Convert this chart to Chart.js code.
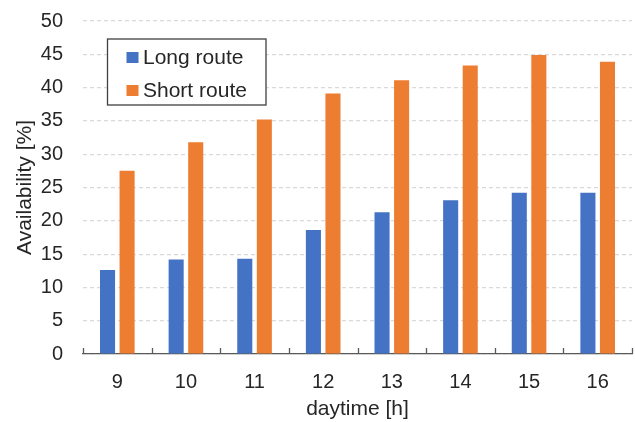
<!DOCTYPE html>
<html>
<head>
<meta charset="utf-8">
<script src="https://cdn.jsdelivr.net/npm/chart.js@4/dist/chart.umd.min.js"></script>
<style>
  html, body { margin: 0; padding: 0; background: #ffffff; }
  #wrap { width: 635px; height: 422px; }
</style>
</head>
<body>
<div id="wrap"><canvas id="c" width="635" height="422"></canvas></div>
<script>
// Hour of day
const hours = ['9', '10', '11', '12', '13', '14', '15', '16'];
// Availability per route, in percent
const longRoute = [12.6, 14.2, 14.3, 18.6, 21.3, 23.1, 24.2, 24.2];
const shortRoute = [27.5, 31.8, 35.2, 39.1, 41.1, 43.3, 44.9, 43.9];
// Value axis ticks
const yTicks = [0, 5, 10, 15, 20, 25, 30, 35, 40, 45, 50];

const FONT = 'Liberation Sans, Arial, sans-serif';
const AXIS_COLOR = '#595959';
const TEXT_COLOR = '#262626';

// Small upward tick marks at category boundaries on the x axis
const categoryTicks = {
  id: 'categoryTicks',
  afterDatasetsDraw(chart) {
    const x = chart.scales.x;
    const ctx = chart.ctx;
    const y0 = x.top;
    ctx.save();
    ctx.strokeStyle = AXIS_COLOR;
    ctx.lineWidth = 1.3;
    ctx.beginPath();
    for (let i = 0; i <= hours.length; i++) {
      const px = Math.round(x.getPixelForValue(i - 0.5)) + 0.5;
      ctx.moveTo(px, y0);
      ctx.lineTo(px, y0 - 6);
    }
    ctx.stroke();
    ctx.restore();
  }
};

// Boxed legend inside the plot area
const boxLegend = {
  id: 'boxLegend',
  afterDraw(chart) {
    const ctx = chart.ctx;
    const area = chart.chartArea;
    const left = area.left + 24.5, top = area.top + 18;
    const w = 158.5, h = 66;
    ctx.save();
    ctx.fillStyle = '#ffffff';
    ctx.fillRect(left, top, w, h);
    ctx.strokeStyle = '#404040';
    ctx.lineWidth = 1.3;
    ctx.strokeRect(left, top, w, h);
    ctx.font = '21px ' + FONT;
    ctx.textBaseline = 'middle';
    chart.data.datasets.forEach((ds, i) => {
      const cy = top + 18.5 + i * 33;
      ctx.fillStyle = ds.backgroundColor;
      ctx.fillRect(left + 19, cy - 5.5, 12, 11);
      ctx.fillStyle = TEXT_COLOR;
      ctx.fillText(ds.label, left + 35.5, cy + 1);
    });
    ctx.restore();
  }
};

new Chart(document.getElementById('c'), {
  type: 'bar',
  data: {
    labels: hours,
    datasets: [
      { label: 'Long route', data: longRoute, backgroundColor: '#4472C4' },
      { label: 'Short route', data: shortRoute, backgroundColor: '#ED7D31' }
    ]
  },
  options: {
    responsive: false,
    animation: false,
    devicePixelRatio: 1,
    layout: { padding: { top: 21, right: 3, bottom: 0, left: 0 } },
    datasets: { bar: { categoryPercentage: 0.57, barPercentage: 0.77 } },
    plugins: { legend: { display: false }, tooltip: { enabled: false } },
    scales: {
      x: {
        grid: { display: false },
        border: { display: true, color: AXIS_COLOR, width: 1.3 },
        ticks: { color: TEXT_COLOR, font: { family: FONT, size: 20 }, padding: 8, maxRotation: 0 },
        title: { display: true, text: 'daytime [h]', color: TEXT_COLOR,
                 font: { family: FONT, size: 21 }, padding: { top: 0, bottom: 0 } },
        afterFit(s) { s.height = 68; }
      },
      y: {
        min: 0, max: 50,
        afterBuildTicks(s) { s.ticks = yTicks.map(v => ({ value: v })); },
        grid: { color: '#d9d9d9', lineWidth: 1.2, drawTicks: false },
        border: { display: false, dash: [4, 3] },
        ticks: { color: TEXT_COLOR, font: { family: FONT, size: 20 }, padding: 20 },
        title: { display: true, text: 'Availability [%]', color: TEXT_COLOR,
                 font: { family: FONT, size: 21 }, padding: { top: 13, bottom: 0 } },
        afterFit(s) {
          s.width = 83;
          // label padding is handled by the layout padding instead
          s.paddingTop = 0;
          s.paddingBottom = 0;
        }
      }
    }
  },
  plugins: [categoryTicks, boxLegend]
});
</script>
</body>
</html>
